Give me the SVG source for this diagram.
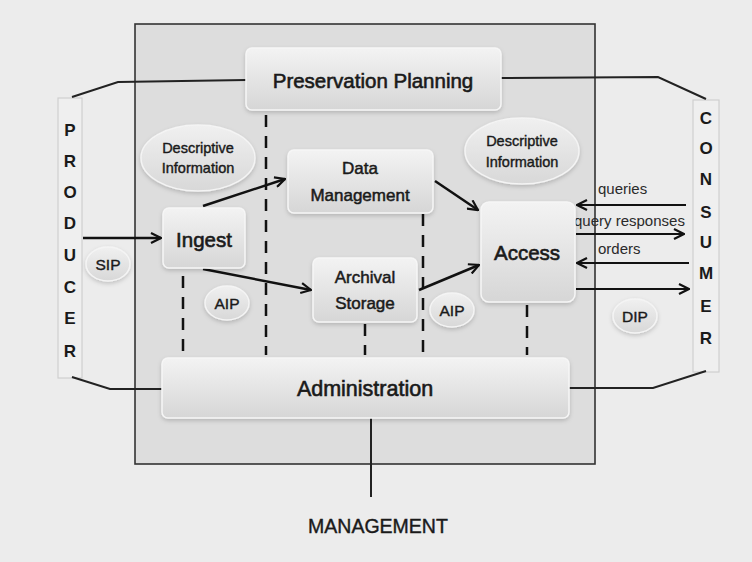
<svg xmlns="http://www.w3.org/2000/svg" width="752" height="562" viewBox="0 0 752 562">
<defs>
<linearGradient id="boxg" x1="0" y1="0" x2="0" y2="1">
<stop offset="0" stop-color="#f3f3f3"/>
<stop offset="1" stop-color="#d6d6d6"/>
</linearGradient>
<linearGradient id="ellg" x1="0" y1="0" x2="0" y2="1">
<stop offset="0" stop-color="#f0f0f0"/>
<stop offset="1" stop-color="#d8d8d8"/>
</linearGradient>
<filter id="sh" x="-20%" y="-20%" width="140%" height="150%">
<feDropShadow dx="0" dy="2" stdDeviation="2" flood-color="#000" flood-opacity="0.18"/>
</filter>
<marker id="ah" viewBox="0 0 12 12" refX="11" refY="6" markerWidth="12" markerHeight="12" markerUnits="userSpaceOnUse" orient="auto">
<path d="M1,1 L11,6 L1,11" fill="none" stroke="#111" stroke-width="2.2"/>
</marker>
</defs>
<style>
.box{fill:url(#boxg);stroke:#f6f6f6;stroke-width:1.5;filter:url(#sh)}
.ell{fill:url(#ellg);stroke:#f4f4f4;stroke-width:1.5;filter:url(#sh)}
.t{font-family:"Liberation Sans",Arial,sans-serif;fill:#1a1a1a;text-anchor:middle;dominant-baseline:central}
.big{font-size:20.5px;stroke:#1a1a1a;stroke-width:0.6}
.mid{font-size:17px;stroke:#1a1a1a;stroke-width:0.5}
.sm{font-size:14.5px;stroke:#1a1a1a;stroke-width:0.4}
.let{font-size:17px;font-weight:bold}
.lab{font-size:15px;fill:#2a2a2a;text-anchor:start}
.arr{fill:none;stroke:#111;stroke-width:2.5;marker-end:url(#ah)}
.carr{fill:none;stroke:#111;stroke-width:2;marker-end:url(#ah)}
.ln{fill:none;stroke:#222;stroke-width:2}
.dash{fill:none;stroke:#111;stroke-width:2.5;stroke-dasharray:12 9}
</style>
<rect x="0" y="0" width="752" height="562" fill="#ececec"/>
<g id="frame">
<rect x="135" y="24" width="460" height="440" fill="#dddddd" stroke="#333" stroke-width="1.6"/>
</g>
<g id="producer">
<rect x="58" y="98" width="24" height="280" fill="#efefef" stroke="#cfcfcf" stroke-width="1.2"/>
<text class="t let" x="70" y="130">P</text>
<text class="t let" x="70" y="161">R</text>
<text class="t let" x="70" y="192">O</text>
<text class="t let" x="70" y="223">D</text>
<text class="t let" x="70" y="255">U</text>
<text class="t let" x="70" y="287">C</text>
<text class="t let" x="70" y="318">E</text>
<text class="t let" x="70" y="351">R</text>
</g>
<g id="consumer">
<rect x="693" y="100" width="26" height="272" fill="#efefef" stroke="#cfcfcf" stroke-width="1.2"/>
<text class="t let" x="706" y="118">C</text>
<text class="t let" x="706" y="148">O</text>
<text class="t let" x="706" y="179">N</text>
<text class="t let" x="706" y="212">S</text>
<text class="t let" x="706" y="242">U</text>
<text class="t let" x="706" y="273">M</text>
<text class="t let" x="706" y="306">E</text>
<text class="t let" x="706" y="338">R</text>
</g>
<g id="connectors">
<polyline class="ln" points="72,97 118,82 246,80"/>
<polyline class="ln" points="72,377 110,389 162,389"/>
<polyline class="ln" points="501,78 658,77 706,99"/>
<polyline class="ln" points="569,388 653,388 706,371"/>
<line class="ln" x1="371" y1="418" x2="371" y2="497"/>
<line class="dash" x1="266" y1="115" x2="266" y2="355"/>
<line class="dash" x1="183" y1="276" x2="183" y2="355"/>
<line class="dash" x1="423" y1="214" x2="423" y2="355"/>
<line class="dash" x1="365" y1="324" x2="365" y2="355"/>
<line class="dash" x1="527" y1="305" x2="527" y2="355"/>
<line class="arr" x1="83" y1="238" x2="161" y2="238"/>
<line class="arr" x1="203" y1="206" x2="285" y2="179"/>
<line class="arr" x1="435" y1="181" x2="478" y2="210"/>
<line class="arr" x1="203" y1="269" x2="311" y2="290"/>
<line class="arr" x1="419" y1="290" x2="479" y2="265"/>
<line class="carr" x1="686" y1="205" x2="577" y2="205"/>
<line class="carr" x1="576" y1="234" x2="684" y2="234"/>
<line class="carr" x1="689" y1="263" x2="577" y2="263"/>
<line class="carr" x1="576" y1="289" x2="689" y2="289"/>
<text class="t lab" x="598" y="188">queries</text>
<text class="t lab" x="574" y="220">query responses</text>
<text class="t lab" x="598" y="248">orders</text>
</g>
<g id="preservation-planning">
<rect class="box" x="246" y="48" width="255" height="62" rx="6"/>
<text class="t big" x="373" y="80">Preservation Planning</text>
</g>
<g id="descriptive-info-left">
<ellipse class="ell" cx="198" cy="158" rx="57" ry="33"/>
<text class="t sm" x="198" y="148">Descriptive</text>
<text class="t sm" x="198" y="168">Information</text>
</g>
<g id="descriptive-info-right">
<ellipse class="ell" cx="522" cy="151" rx="57" ry="33"/>
<text class="t sm" x="522" y="141">Descriptive</text>
<text class="t sm" x="522" y="162">Information</text>
</g>
<g id="ingest">
<rect class="box" x="163" y="208" width="82" height="60" rx="6"/>
<text class="t big" x="204" y="239">Ingest</text>
</g>
<g id="data-management">
<rect class="box" x="288" y="150" width="145" height="63" rx="6"/>
<text class="t mid" x="360" y="168">Data</text>
<text class="t mid" x="360" y="195">Management</text>
</g>
<g id="access">
<rect class="box" x="481" y="202" width="94" height="100" rx="8"/>
<text class="t big" x="527" y="252">Access</text>
</g>
<g id="archival-storage">
<rect class="box" x="313" y="258" width="104" height="64" rx="6"/>
<text class="t mid" x="365" y="277">Archival</text>
<text class="t mid" x="365" y="303">Storage</text>
</g>
<g id="administration">
<rect class="box" x="162" y="358" width="407" height="60" rx="6"/>
<text class="t big" x="365" y="389" style="font-size:21.5px">Administration</text>
</g>
<g id="sip">
<ellipse class="ell" cx="108" cy="264" rx="22" ry="17"/>
<text class="t sm" x="108" y="264" style="font-size:15.5px">SIP</text>
</g>
<g id="aip-left">
<ellipse class="ell" cx="227" cy="303" rx="22" ry="17"/>
<text class="t sm" x="227" y="303" style="font-size:15.5px">AIP</text>
</g>
<g id="aip-right">
<ellipse class="ell" cx="452" cy="310" rx="22" ry="17"/>
<text class="t sm" x="452" y="310" style="font-size:15.5px">AIP</text>
</g>
<g id="dip">
<ellipse class="ell" cx="635" cy="316" rx="22" ry="17"/>
<text class="t sm" x="635" y="316" style="font-size:15.5px">DIP</text>
</g>
<g id="management">
<text class="t" x="378" y="526" style="font-size:19.5px;stroke:#1a1a1a;stroke-width:0.4">MANAGEMENT</text>
</g>
</svg>
